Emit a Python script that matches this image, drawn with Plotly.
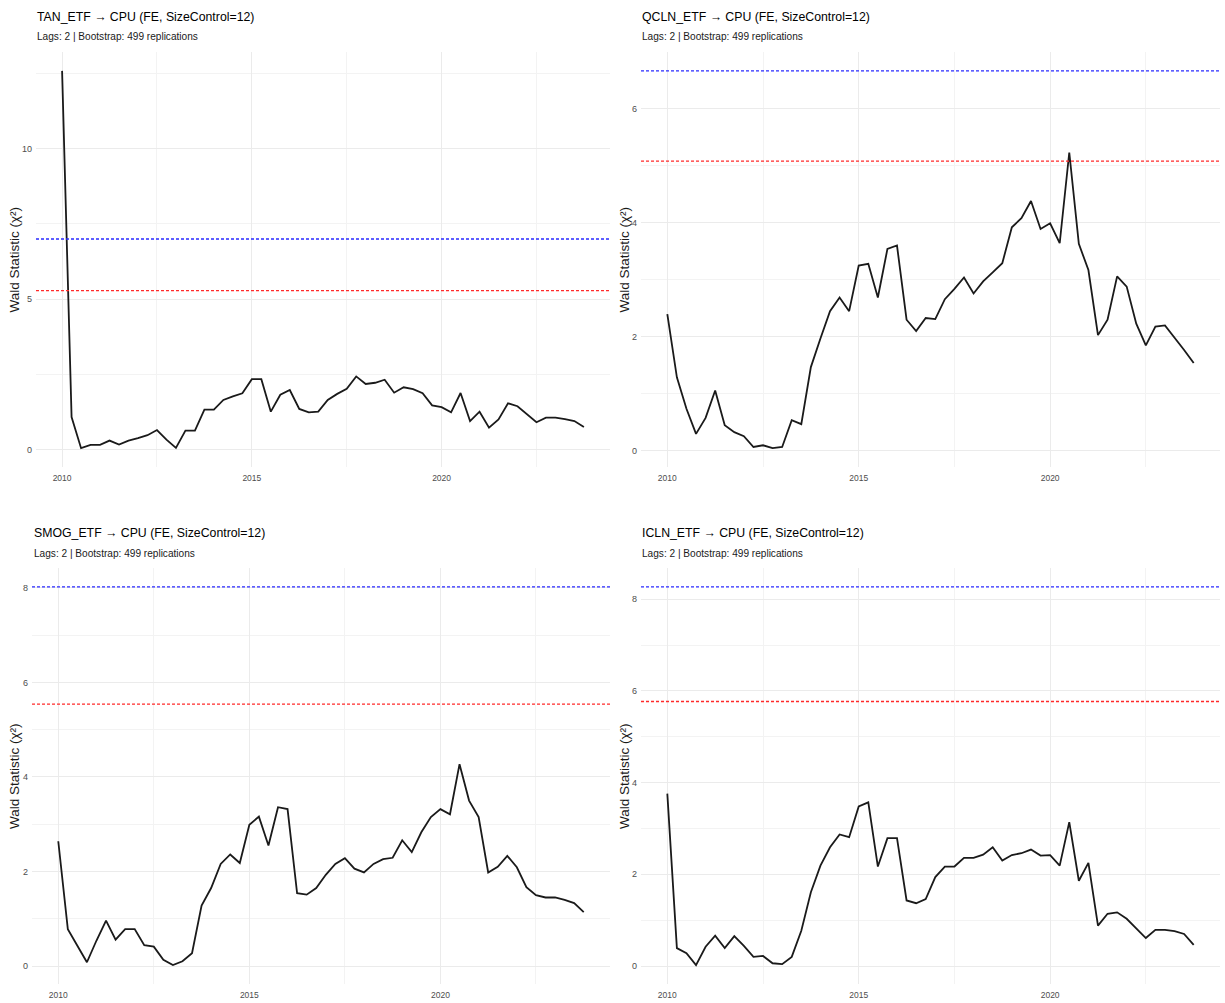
import plotly.graph_objects as go

# ---------------- data ----------------
years = [2010 + 0.25 * i for i in range(56)]  # quarterly observations 2010Q1 .. 2023Q4

tan_etf = [12.58, 1.09, 0.06, 0.17, 0.17, 0.31, 0.18, 0.31, 0.39, 0.49, 0.66, 0.34, 0.07, 0.64,
           0.64, 1.34, 1.34, 1.66, 1.78, 1.88, 2.35, 2.35, 1.27, 1.83, 1.99, 1.36, 1.25, 1.27,
           1.66, 1.86, 2.03, 2.44, 2.19, 2.23, 2.33, 1.90, 2.08, 2.02, 1.88, 1.48, 1.42, 1.25,
           1.89, 0.96, 1.27, 0.74, 1.01, 1.55, 1.45, 1.20, 0.92, 1.07, 1.07, 1.02, 0.96, 0.76]

qcln_etf = [2.40, 1.29, 0.74, 0.30, 0.58, 1.06, 0.45, 0.33, 0.26, 0.07, 0.10, 0.05, 0.07, 0.54,
            0.47, 1.47, 1.97, 2.45, 2.69, 2.45, 3.25, 3.28, 2.69, 3.54, 3.60, 2.30, 2.10, 2.33,
            2.31, 2.66, 2.84, 3.04, 2.76, 2.97, 3.13, 3.29, 3.92, 4.08, 4.38, 3.89, 3.99, 3.64,
            5.23, 3.63, 3.17, 2.03, 2.30, 3.06, 2.88, 2.23, 1.85, 2.18, 2.20, 1.99, 1.77, 1.54]

smog_etf = [2.64, 0.78, 0.43, 0.08, 0.54, 0.96, 0.56, 0.78, 0.78, 0.44, 0.41, 0.13, 0.02, 0.10,
            0.27, 1.28, 1.65, 2.16, 2.36, 2.18, 2.99, 3.16, 2.55, 3.36, 3.32, 1.54, 1.51, 1.65,
            1.93, 2.16, 2.28, 2.06, 1.98, 2.16, 2.26, 2.29, 2.66, 2.41, 2.83, 3.15, 3.32, 3.21,
            4.27, 3.50, 3.15, 1.98, 2.10, 2.33, 2.09, 1.67, 1.50, 1.45, 1.45, 1.40, 1.33, 1.14]

icln_etf = [3.76, 0.39, 0.28, 0.02, 0.42, 0.66, 0.39, 0.65, 0.44, 0.20, 0.22, 0.06, 0.04, 0.20,
            0.77, 1.61, 2.19, 2.59, 2.87, 2.81, 3.48, 3.57, 2.17, 2.79, 2.79, 1.43, 1.37, 1.46,
            1.94, 2.17, 2.17, 2.36, 2.36, 2.43, 2.59, 2.30, 2.42, 2.46, 2.54, 2.41, 2.42, 2.19,
            3.14, 1.86, 2.25, 0.88, 1.14, 1.17, 1.03, 0.82, 0.61, 0.79, 0.79, 0.76, 0.70, 0.46]

etf_names = ["TAN_ETF", "QCLN_ETF", "SMOG_ETF", "ICLN_ETF"]
series = [tan_etf, qcln_etf, smog_etf, icln_etf]
crit_red = [5.29, 5.08, 5.54, 5.77]
crit_blue = [7.00, 6.66, 8.02, 8.27]
y_major = [5, 2, 2, 2]
x_tickvals = [2010, 2015, 2020]
x_ticktext = ["2010", "2015", "2020"]

subtitle = "Lags: 2 | Bootstrap: 499 replications"
ytitle = "Wald Statistic (χ²)"

# ---------------- layout geometry (pixels) ----------------
W, H = 1225, 1003
boxes = [  # (left, right, top, bottom) of each plotting panel
    (36, 610, 52, 467),
    (641, 1220, 52, 467),
    (32, 610, 568, 984),
    (641, 1220, 568, 984),
]
title_pos = [(35, 17), (640, 17), (32, 533), (640, 533)]
ytitle_x = [14, 624, 14, 624]

FONT = "Liberation Sans, Arial, sans-serif"

fig = go.Figure()
layout = dict(
    width=W, height=H,
    margin=dict(l=0, r=0, t=0, b=0),
    paper_bgcolor="white", plot_bgcolor="white",
    showlegend=False,
    font=dict(family=FONT, color="#000"),
)
annotations = []
shapes = []

def expand(lo, hi, f=0.05):
    s = hi - lo
    return [lo - f * s, hi + f * s]

xr = expand(min(years), max(years))

for i, (name, vals) in enumerate(zip(etf_names, series)):
    k = "" if i == 0 else str(i + 1)
    L, R, T, B = boxes[i]
    xa = "xaxis" + k
    ya = "yaxis" + k
    all_y = vals + [crit_red[i], crit_blue[i]]
    yr = expand(min(all_y), max(all_y))
    layout[xa] = dict(
        domain=[L / W, R / W], range=xr, anchor="y" + k,
        tickvals=x_tickvals, ticktext=x_ticktext,
        showgrid=True, gridcolor="#ebebeb", gridwidth=1.4,
        minor=dict(dtick=2.5, tick0=2010, showgrid=True, gridcolor="#f3f3f3", gridwidth=0.9),
        zeroline=False, showline=False, ticks="",
        tickfont=dict(size=8.5, color="#4d4d4d", family=FONT),
        ticklabelstandoff=4, fixedrange=True,
    )
    layout[ya] = dict(
        domain=[1 - B / H, 1 - T / H], range=yr, anchor="x" + k,
        dtick=y_major[i], tick0=0,
        showgrid=True, gridcolor="#ebebeb", gridwidth=1.4,
        minor=dict(dtick=y_major[i] / 2, tick0=0, showgrid=True, gridcolor="#f3f3f3", gridwidth=0.9),
        zeroline=False, showline=False, ticks="",
        tickfont=dict(size=9, color="#4d4d4d", family=FONT),
        ticklabelstandoff=3, fixedrange=True,
    )
    fig.add_trace(go.Scatter(
        x=years, y=vals, mode="lines", xaxis="x" + k, yaxis="y" + k,
        line=dict(color="#1a1a1a", width=1.8), hoverinfo="x+y",
    ))
    for val, col in [(crit_red[i], "#ff2a2a"), (crit_blue[i], "#2a2aff")]:
        shapes.append(dict(
            type="line", xref="x" + k + " domain", yref="y" + k,
            x0=0, x1=1, y0=val, y1=val,
            line=dict(color=col, width=1.3, dash="3px,2px"),
        ))
    tx, ty = title_pos[i]
    annotations.append(dict(
        text=f"{name} → CPU (FE, SizeControl=12)", xref="paper", yref="paper",
        x=tx / W, y=1 - ty / H, xanchor="left", yanchor="middle", showarrow=False,
        font=dict(size=12.3, color="#000", family=FONT),
    ))
    annotations.append(dict(
        text=subtitle, xref="paper", yref="paper",
        x=tx / W, y=1 - (ty + 20) / H, xanchor="left", yanchor="middle", showarrow=False,
        font=dict(size=10.1, color="#1a1a1a", family=FONT),
    ))
    annotations.append(dict(
        text=ytitle, xref="paper", yref="paper", textangle=-90,
        x=ytitle_x[i] / W, y=1 - ((T + B) / 2) / H, xanchor="center", yanchor="middle",
        showarrow=False, font=dict(size=13.5, color="#1a1a1a", family=FONT),
    ))

layout["annotations"] = annotations
layout["shapes"] = shapes
fig.update_layout(**layout)
fig.write_html("out.html", config={"displayModeBar": False},
               post_script="document.body.style.margin='0';")
